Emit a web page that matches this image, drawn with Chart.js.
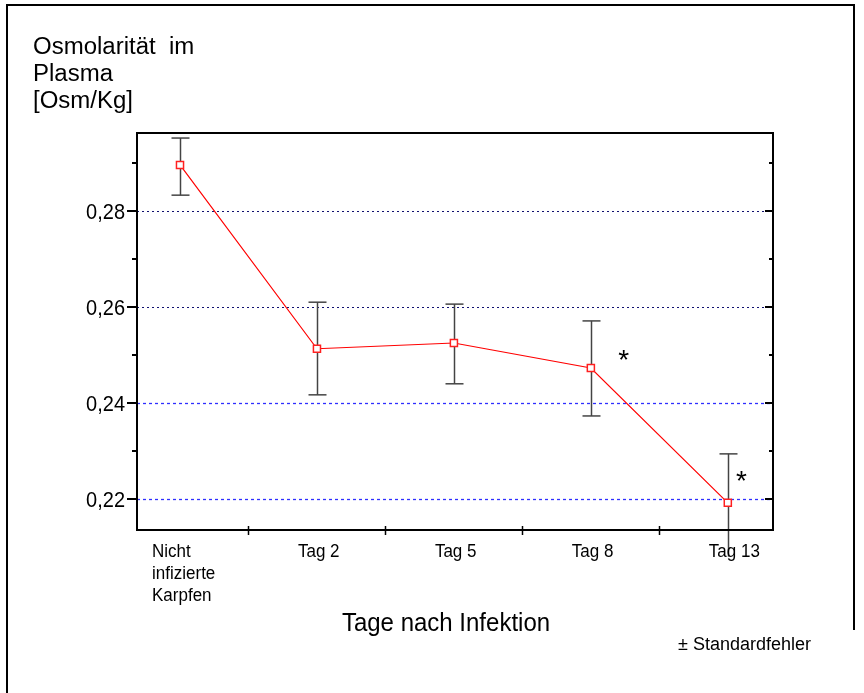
<!DOCTYPE html>
<html>
<head>
<meta charset="utf-8">
<script src="https://cdn.jsdelivr.net/npm/chart.js@4/dist/chart.umd.min.js"></script>
<style>
html,body{margin:0;padding:0;background:#fff;}
canvas{display:block;}
</style>
</head>
<body>
<canvas id="c" width="864" height="693"></canvas>
<script>
const categories = [['Nicht','infizierte','Karpfen'], ['Tag 2'], ['Tag 5'], ['Tag 8'], ['Tag 13']];
const means   = [0.2896, 0.2513, 0.2525, 0.2473, 0.2192];
const errHigh = [0.2952, 0.2610, 0.2606, 0.2571, 0.2294];
const errLow  = [0.2833, 0.2417, 0.2440, 0.2373, 0.2080];
const yTicks = [0.22, 0.24, 0.26, 0.28];
const yMinorTicks = [0.23, 0.25, 0.27, 0.29];
const xBoundaries = [0.5, 1.5, 2.5, 3.5];
const starX = [3.24, 4.10];
const starY = [0.2500, 0.2248];
const titleLines = ['Osmolarität  im', 'Plasma', '[Osm/Kg]'];
const xTitle = 'Tage nach Infektion';
const noteText = '± Standardfehler';

const FONT = '"Liberation Sans", Arial, sans-serif';

function tallText(ctx, t, x, y, sy) {
  ctx.save();
  ctx.translate(x, y);
  ctx.scale(1, sy);
  ctx.fillText(t, 0, 0);
  ctx.restore();
}

const deco = {
  id: 'deco',
  beforeDatasetsDraw(chart) {
    const ctx = chart.ctx, a = chart.chartArea;
    const xs = chart.scales.x, ys = chart.scales.y;
    ctx.save();
    yTicks.forEach(v => {
      const y = Math.round(ys.getPixelForValue(v)) + 0.5;
      ctx.strokeStyle = v > 0.25 ? '#101070' : '#2f2fff';
      ctx.setLineDash(v > 0.25 ? [2, 3] : [3, 3]);
      ctx.lineWidth = v > 0.25 ? 1 : 1.3;
      ctx.beginPath(); ctx.moveTo(a.left, y); ctx.lineTo(a.right, y); ctx.stroke();
    });
    ctx.setLineDash([]);
    ctx.strokeStyle = '#444444';
    ctx.lineWidth = 1.5;
    means.forEach((m, i) => {
      const x = Math.round(xs.getPixelForValue(i)) + 0.5;
      const yh = ys.getPixelForValue(errHigh[i]);
      const yl = ys.getPixelForValue(errLow[i]);
      ctx.beginPath(); ctx.moveTo(x, yh); ctx.lineTo(x, yl); ctx.stroke();
      [yh, yl].forEach(yy => {
        if (yy >= a.top - 1 && yy <= a.bottom) {
          ctx.beginPath(); ctx.moveTo(x - 9, yy); ctx.lineTo(x + 9, yy); ctx.stroke();
        }
      });
    });
    ctx.restore();
  },
  afterDatasetsDraw(chart) {
    const ctx = chart.ctx, a = chart.chartArea;
    const xs = chart.scales.x, ys = chart.scales.y;
    ctx.save();
    ctx.strokeStyle = '#000'; ctx.lineWidth = 2;
    ctx.beginPath();
    ctx.moveTo(7, 693); ctx.lineTo(7, 5); ctx.lineTo(854, 5); ctx.lineTo(854, 630);
    ctx.stroke();
    ctx.lineWidth = 2;
    ctx.strokeRect(a.left, a.top, a.right - a.left, a.bottom - a.top);
    yTicks.forEach(v => {
      const y = Math.round(ys.getPixelForValue(v));
      ctx.beginPath(); ctx.moveTo(a.left - 10, y); ctx.lineTo(a.left, y); ctx.stroke();
      ctx.beginPath(); ctx.moveTo(a.right - 8, y); ctx.lineTo(a.right, y); ctx.stroke();
    });
    yMinorTicks.forEach(v => {
      const y = Math.round(ys.getPixelForValue(v));
      ctx.beginPath(); ctx.moveTo(a.left - 5, y); ctx.lineTo(a.left, y); ctx.stroke();
      ctx.beginPath(); ctx.moveTo(a.right - 4, y); ctx.lineTo(a.right, y); ctx.stroke();
    });
    ctx.lineWidth = 1.5;
    xBoundaries.forEach(v => {
      const x = Math.round(xs.getPixelForValue(v)) + 0.5;
      ctx.beginPath(); ctx.moveTo(x, a.bottom - 4); ctx.lineTo(x, a.bottom + 5); ctx.stroke();
    });
    ctx.fillStyle = '#000';
    ctx.font = '20px ' + FONT;
    ctx.textAlign = 'right'; ctx.textBaseline = 'alphabetic';
    yTicks.forEach(v => {
      tallText(ctx, v.toFixed(2).replace('.', ','), a.left - 12, ys.getPixelForValue(v) + 8, 1.08);
    });
    ctx.font = '17px ' + FONT;
    ctx.textAlign = 'left';
    categories.forEach((lines, i) => {
      const x = xs.getPixelForValue(i) + (i === 0 ? -28 : -19);
      lines.forEach((t, k) => tallText(ctx, t, x, a.bottom + 27 + k * 22, 1.1));
    });
    ctx.font = '28px ' + FONT;
    ctx.textAlign = 'center';
    starX.forEach((sx, i) => tallText(ctx, '*', xs.getPixelForValue(sx), ys.getPixelForValue(starY[i]) + 14, 1.0));
    ctx.font = '24px ' + FONT;
    ctx.textAlign = 'left';
    titleLines.forEach((t, k) => tallText(ctx, t, 33, 54 + k * 27, 1.03));
    ctx.font = '24px ' + FONT;
    ctx.textAlign = 'center';
    tallText(ctx, xTitle, 446, 631, 1.05);
    ctx.font = '18px ' + FONT;
    ctx.textAlign = 'left';
    tallText(ctx, noteText, 678, 650, 1.0);
    ctx.restore();
  }
};

new Chart(document.getElementById('c'), {
  type: 'line',
  data: {
    datasets: [{
      data: means.map((m, i) => ({ x: i, y: m })),
      borderColor: '#ff0000',
      borderWidth: 1.2,
      backgroundColor: '#ffffff',
      pointStyle: 'rect',
      pointRadius: 5,
      pointBorderWidth: 1.5,
      pointBorderColor: '#ff2020',
      pointBackgroundColor: '#ffffff',
      tension: 0
    }]
  },
  options: {
    responsive: false,
    devicePixelRatio: 1,
    animation: false,
    layout: { padding: { left: 137, right: 91, top: 133, bottom: 163 } },
    plugins: { legend: { display: false }, tooltip: { enabled: false } },
    scales: {
      x: { type: 'linear', min: -0.314, max: 4.33, display: false },
      y: { type: 'linear', min: 0.21354, max: 0.29625, display: false }
    }
  },
  plugins: [deco]
});
</script>
</body>
</html>
